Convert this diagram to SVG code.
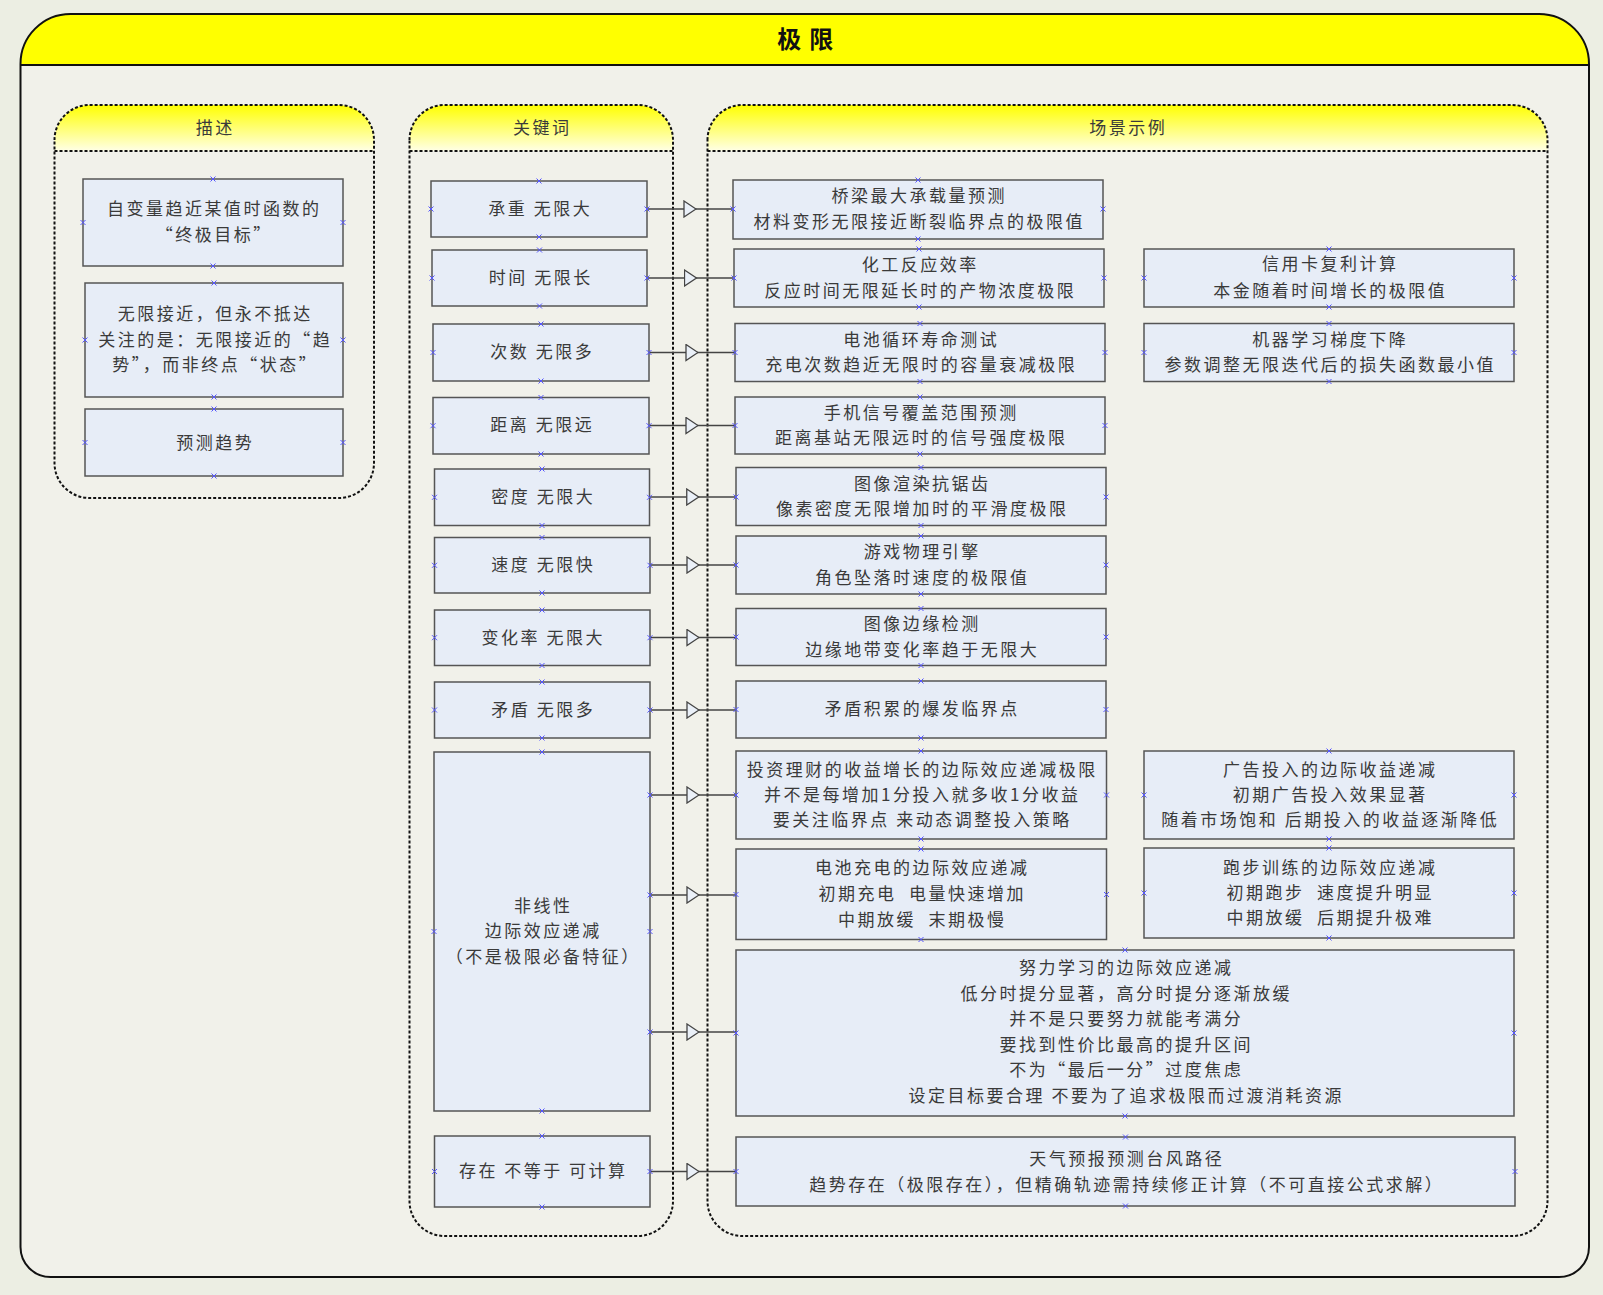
<svg xmlns="http://www.w3.org/2000/svg" xmlns:xlink="http://www.w3.org/1999/xlink" width="1603" height="1295" viewBox="0 0 1603 1295">
<defs>
<style>
.node rect{fill:#E7EDF7;stroke:#555;stroke-width:1.5}
text{font-family:"Noto Sans CJK SC","Noto Sans",sans-serif;font-size:17px;letter-spacing:2.5px;fill:#3a3a3a;text-anchor:middle;dominant-baseline:central;white-space:pre;transform:translate(1.25px,-2px)}
.lane{fill:none;stroke:#111;stroke-width:2;stroke-dasharray:3 2}
.lanehead{fill:url(#lg)}
.conn path{fill:none;stroke:#444;stroke-width:1.5;marker-mid:url(#tri)}
.cx{fill:none;stroke:#5555ff;stroke-width:1}
</style>
<linearGradient id="lg" x1="0" y1="0" x2="0" y2="1">
<stop offset="0" stop-color="#FFFF00"/>
<stop offset="1" stop-color="#FFFFE6"/>
</linearGradient>
<marker id="tri" viewBox="-7 -9 14 18" markerWidth="14" markerHeight="18" markerUnits="userSpaceOnUse" refX="0" refY="0" orient="auto">
<path d="M-6,-8 L6,0 L-6,8 Z" fill="#EAF0F8" stroke="#444" stroke-width="1.3"/>
</marker>
<path id="cx" class="cx" d="M-2.5,-2.5 L2.5,2.5 M-2.5,2.5 L2.5,-2.5"/>
</defs>
<rect x="0" y="0" width="1603" height="1295" fill="#ECEEE3"/>
<g id="container">
<path d="M20.5,64 A50,50 0 0 1 70.5,14 H1539 A50,50 0 0 1 1589,64 V1247 A30,30 0 0 1 1559,1277 H50.5 A30,30 0 0 1 20.5,1247 Z" fill="#F1F1EA"/>
<path d="M20.5,65 V64 A50,50 0 0 1 70.5,14 H1539 A50,50 0 0 1 1589,64 V65 Z" fill="#FFFF00"/>
<line x1="20.5" y1="65" x2="1589" y2="65" stroke="#111" stroke-width="2"/>
<path d="M20.5,64 A50,50 0 0 1 70.5,14 H1539 A50,50 0 0 1 1589,64 V1247 A30,30 0 0 1 1559,1277 H50.5 A30,30 0 0 1 20.5,1247 Z" fill="none" stroke="#111" stroke-width="2"/>
<text x="808" y="39" style="font-size:24px;font-weight:bold;letter-spacing:8px;fill:#111">极限</text>
</g>
<g id="lane-desc">
<path class="lanehead" d="M54.5,151 V140 A35,35 0 0 1 89.5,105 H339 A35,35 0 0 1 374,140 V151 Z"/>
<path class="lane" d="M54.5,140 A35,35 0 0 1 89.5,105 H339 A35,35 0 0 1 374,140 V463 A35,35 0 0 1 339,498 H89.5 A35,35 0 0 1 54.5,463 Z"/>
<line class="lane" x1="54.5" y1="151" x2="374" y2="151"/>
<text x="214" y="128">描述</text>
</g>
<g id="lane-kw">
<path class="lanehead" d="M409.5,151 V140 A35,35 0 0 1 444.5,105 H638 A35,35 0 0 1 673,140 V151 Z"/>
<path class="lane" d="M409.5,140 A35,35 0 0 1 444.5,105 H638 A35,35 0 0 1 673,140 V1201 A35,35 0 0 1 638,1236 H444.5 A35,35 0 0 1 409.5,1201 Z"/>
<line class="lane" x1="409.5" y1="151" x2="673" y2="151"/>
<text x="541" y="128">关键词</text>
</g>
<g id="lane-sc">
<path class="lanehead" d="M707.5,151 V140 A35,35 0 0 1 742.5,105 H1512.5 A35,35 0 0 1 1547.5,140 V151 Z"/>
<path class="lane" d="M707.5,140 A35,35 0 0 1 742.5,105 H1512.5 A35,35 0 0 1 1547.5,140 V1201 A35,35 0 0 1 1512.5,1236 H742.5 A35,35 0 0 1 707.5,1201 Z"/>
<line class="lane" x1="707.5" y1="151" x2="1547.5" y2="151"/>
<text x="1127" y="128">场景示例</text>
</g>

<g id="connectors" class="conn">
<path d="M647,209 L690,209 L733,209"/>
<path d="M647,278 L690.5,278 L734,278"/>
<path d="M649,352.5 L692,352.5 L735,352.5"/>
<path d="M649,425.5 L692,425.5 L735,425.5"/>
<path d="M649.5,497 L692.75,497 L736,497"/>
<path d="M650,565 L693,565 L736,565"/>
<path d="M650,637.5 L693,637.5 L736,637.5"/>
<path d="M650,710 L693,710 L736,710"/>
<path d="M650,795 L693,795 L736,795"/>
<path d="M650,895 L693,895 L736,895"/>
<path d="M650,1032 L693,1032 L736,1032"/>
<path d="M650,1171.5 L693,1171.5 L736,1171.5"/>
</g>

<g id="d1" class="node"><rect x="83" y="179" width="260" height="87"/>
<text x="213" y="209">自变量趋近某值时函数的</text><text x="213" y="235">“终极目标”</text>
<use href="#cx" x="213" y="179"/><use href="#cx" x="213" y="266"/><use href="#cx" x="83" y="222.5"/><use href="#cx" x="343" y="222.5"/></g>
<g id="d2" class="node"><rect x="85" y="283" width="258" height="114"/>
<text x="214" y="314.5">无限接近，但永不抵达</text><text x="214" y="340">关注的是：无限接近的“趋</text><text x="214" y="365.5">势”，而非终点“状态”</text>
<use href="#cx" x="214" y="283"/><use href="#cx" x="214" y="397"/><use href="#cx" x="85" y="340"/><use href="#cx" x="343" y="340"/></g>
<g id="d3" class="node"><rect x="85" y="409" width="258" height="67"/>
<text x="214" y="443">预测趋势</text>
<use href="#cx" x="214" y="409"/><use href="#cx" x="214" y="476"/><use href="#cx" x="85" y="442.5"/><use href="#cx" x="343" y="442.5"/></g>

<g id="k1" class="node"><rect x="431" y="181" width="216" height="56"/><text x="539" y="209">承重 无限大</text>
<use href="#cx" x="539" y="181"/><use href="#cx" x="539" y="237"/><use href="#cx" x="431" y="209"/><use href="#cx" x="647" y="209"/></g>
<g id="k2" class="node"><rect x="432" y="250" width="215" height="56"/><text x="539.5" y="278">时间 无限长</text>
<use href="#cx" x="539.5" y="250"/><use href="#cx" x="539.5" y="306"/><use href="#cx" x="432" y="278"/><use href="#cx" x="647" y="278"/></g>
<g id="k3" class="node"><rect x="433" y="324" width="216" height="57"/><text x="541" y="352.5">次数 无限多</text>
<use href="#cx" x="541" y="324"/><use href="#cx" x="541" y="381"/><use href="#cx" x="433" y="352.5"/><use href="#cx" x="649" y="352.5"/></g>
<g id="k4" class="node"><rect x="433" y="397.5" width="216" height="56.5"/><text x="541" y="425.7">距离 无限远</text>
<use href="#cx" x="541" y="397.5"/><use href="#cx" x="541" y="454"/><use href="#cx" x="433" y="425.7"/><use href="#cx" x="649" y="425.7"/></g>
<g id="k5" class="node"><rect x="434.5" y="469" width="215" height="56.5"/><text x="542" y="497.3">密度 无限大</text>
<use href="#cx" x="542" y="469"/><use href="#cx" x="542" y="525.5"/><use href="#cx" x="434.5" y="497.3"/><use href="#cx" x="649.5" y="497.3"/></g>
<g id="k6" class="node"><rect x="434.5" y="537.5" width="215.5" height="55.5"/><text x="542" y="565.3">速度 无限快</text>
<use href="#cx" x="542" y="537.5"/><use href="#cx" x="542" y="593"/><use href="#cx" x="434.5" y="565.3"/><use href="#cx" x="650" y="565.3"/></g>
<g id="k7" class="node"><rect x="434.5" y="610" width="215.5" height="55.5"/><text x="542" y="638">变化率 无限大</text>
<use href="#cx" x="542" y="610"/><use href="#cx" x="542" y="665.5"/><use href="#cx" x="434.5" y="637.7"/><use href="#cx" x="650" y="637.7"/></g>
<g id="k8" class="node"><rect x="434.5" y="682" width="215.5" height="56"/><text x="542" y="710">矛盾 无限多</text>
<use href="#cx" x="542" y="682"/><use href="#cx" x="542" y="738"/><use href="#cx" x="434.5" y="710"/><use href="#cx" x="650" y="710"/></g>
<g id="k9" class="node"><rect x="434" y="752" width="216" height="359"/>
<text x="542" y="906">非线性</text><text x="542" y="931.7">边际效应递减</text><text x="542" y="957.3">（不是极限必备特征）</text>
<use href="#cx" x="542" y="752"/><use href="#cx" x="542" y="1111"/><use href="#cx" x="434" y="931.5"/><use href="#cx" x="650" y="931.5"/><use href="#cx" x="650" y="795"/><use href="#cx" x="650" y="895"/><use href="#cx" x="650" y="1032"/></g>
<g id="k10" class="node"><rect x="434.5" y="1136" width="215.5" height="71"/><text x="542" y="1171.6">存在 不等于 可计算</text>
<use href="#cx" x="542" y="1136"/><use href="#cx" x="542" y="1207"/><use href="#cx" x="434.5" y="1171.5"/><use href="#cx" x="650" y="1171.5"/></g>

<g id="s1" class="node"><rect x="733" y="180" width="370" height="59"/>
<text x="918" y="196.5">桥梁最大承载量预测</text><text x="918" y="222">材料变形无限接近断裂临界点的极限值</text>
<use href="#cx" x="918" y="180"/><use href="#cx" x="918" y="239"/><use href="#cx" x="733" y="209"/><use href="#cx" x="1103" y="209"/></g>
<g id="s2" class="node"><rect x="734" y="249" width="370" height="58"/>
<text x="919" y="265">化工反应效率</text><text x="919" y="291">反应时间无限延长时的产物浓度极限</text>
<use href="#cx" x="919" y="249"/><use href="#cx" x="919" y="307"/><use href="#cx" x="734" y="278"/><use href="#cx" x="1104" y="278"/></g>
<g id="s3" class="node"><rect x="735" y="323.5" width="370" height="58"/>
<text x="920" y="340">电池循环寿命测试</text><text x="920" y="365">充电次数趋近无限时的容量衰减极限</text>
<use href="#cx" x="920" y="323.5"/><use href="#cx" x="920" y="381.5"/><use href="#cx" x="735" y="352.5"/><use href="#cx" x="1105" y="352.5"/></g>
<g id="s4" class="node"><rect x="735" y="397" width="370" height="57"/>
<text x="920" y="413">手机信号覆盖范围预测</text><text x="920" y="438.5">距离基站无限远时的信号强度极限</text>
<use href="#cx" x="920" y="397"/><use href="#cx" x="920" y="454"/><use href="#cx" x="735" y="425.5"/><use href="#cx" x="1105" y="425.5"/></g>
<g id="s5" class="node"><rect x="736" y="467.5" width="370" height="58"/>
<text x="921" y="484">图像渲染抗锯齿</text><text x="921" y="509.5">像素密度无限增加时的平滑度极限</text>
<use href="#cx" x="921" y="467.5"/><use href="#cx" x="921" y="525.5"/><use href="#cx" x="736" y="497"/><use href="#cx" x="1106" y="497"/></g>
<g id="s6" class="node"><rect x="736" y="536" width="370" height="58"/>
<text x="921" y="552">游戏物理引擎</text><text x="921" y="578">角色坠落时速度的极限值</text>
<use href="#cx" x="921" y="536"/><use href="#cx" x="921" y="594"/><use href="#cx" x="736" y="565"/><use href="#cx" x="1106" y="565"/></g>
<g id="s7" class="node"><rect x="736" y="608.5" width="370" height="57"/>
<text x="921" y="624.5">图像边缘检测</text><text x="921" y="650">边缘地带变化率趋于无限大</text>
<use href="#cx" x="921" y="608.5"/><use href="#cx" x="921" y="665.5"/><use href="#cx" x="736" y="637"/><use href="#cx" x="1106" y="637"/></g>
<g id="s8" class="node"><rect x="736" y="681" width="370" height="57"/>
<text x="921" y="709.5">矛盾积累的爆发临界点</text>
<use href="#cx" x="921" y="681"/><use href="#cx" x="921" y="738"/><use href="#cx" x="736" y="709.5"/><use href="#cx" x="1106" y="709.5"/></g>
<g id="s9" class="node"><rect x="736" y="751" width="370.5" height="88"/>
<text x="921" y="770">投资理财的收益增长的边际效应递减极限</text><text x="921" y="795">并不是每增加1分投入就多收1分收益</text><text x="921" y="820">要关注临界点 来动态调整投入策略</text>
<use href="#cx" x="921" y="751"/><use href="#cx" x="921" y="839"/><use href="#cx" x="736" y="795"/><use href="#cx" x="1106.5" y="795"/></g>
<g id="s10" class="node"><rect x="736" y="849" width="370.5" height="90.5"/>
<text x="921" y="868.5">电池充电的边际效应递减</text><text x="921" y="894.5">初期充电  电量快速增加</text><text x="921" y="920">中期放缓  末期极慢</text>
<use href="#cx" x="921" y="849"/><use href="#cx" x="921" y="939.5"/><use href="#cx" x="736" y="894.5"/><use href="#cx" x="1106.5" y="894.5"/></g>
<g id="s11" class="node"><rect x="736" y="950" width="778" height="166"/>
<text x="1125" y="968.5">努力学习的边际效应递减</text><text x="1125" y="994">低分时提分显著，高分时提分逐渐放缓</text><text x="1125" y="1019.5">并不是只要努力就能考满分</text><text x="1125" y="1045">要找到性价比最高的提升区间</text><text x="1125" y="1070.5">不为“最后一分”过度焦虑</text><text x="1125" y="1096">设定目标要合理 不要为了追求极限而过渡消耗资源</text>
<use href="#cx" x="1125" y="950"/><use href="#cx" x="1125" y="1116"/><use href="#cx" x="736" y="1033"/><use href="#cx" x="1514" y="1033"/></g>
<g id="s12" class="node"><rect x="736" y="1137" width="779" height="69"/>
<text x="1125.5" y="1159">天气预报预测台风路径</text><text x="1125.5" y="1185">趋势存在（极限存在），但精确轨迹需持续修正计算（不可直接公式求解）</text>
<use href="#cx" x="1125.5" y="1137"/><use href="#cx" x="1125.5" y="1206"/><use href="#cx" x="736" y="1171.5"/><use href="#cx" x="1515" y="1171.5"/></g>

<g id="r1" class="node"><rect x="1144" y="249" width="370" height="58"/>
<text x="1329" y="264.5">信用卡复利计算</text><text x="1329" y="291">本金随着时间增长的极限值</text>
<use href="#cx" x="1329" y="249"/><use href="#cx" x="1329" y="307"/><use href="#cx" x="1144" y="278"/><use href="#cx" x="1514" y="278"/></g>
<g id="r2" class="node"><rect x="1144" y="323.5" width="370" height="58"/>
<text x="1329" y="340">机器学习梯度下降</text><text x="1329" y="365">参数调整无限迭代后的损失函数最小值</text>
<use href="#cx" x="1329" y="323.5"/><use href="#cx" x="1329" y="381.5"/><use href="#cx" x="1144" y="352.5"/><use href="#cx" x="1514" y="352.5"/></g>
<g id="r3" class="node"><rect x="1144" y="751" width="370" height="88"/>
<text x="1329" y="770">广告投入的边际收益递减</text><text x="1329" y="795">初期广告投入效果显著</text><text x="1329" y="820.5">随着市场饱和 后期投入的收益逐渐降低</text>
<use href="#cx" x="1329" y="751"/><use href="#cx" x="1329" y="839"/><use href="#cx" x="1144" y="795"/><use href="#cx" x="1514" y="795"/></g>
<g id="r4" class="node"><rect x="1144" y="848" width="370" height="90"/>
<text x="1329" y="868">跑步训练的边际效应递减</text><text x="1329" y="893.5">初期跑步  速度提升明显</text><text x="1329" y="918.5">中期放缓  后期提升极难</text>
<use href="#cx" x="1329" y="848"/><use href="#cx" x="1329" y="938"/><use href="#cx" x="1144" y="893"/><use href="#cx" x="1514" y="893"/></g>
</svg>
